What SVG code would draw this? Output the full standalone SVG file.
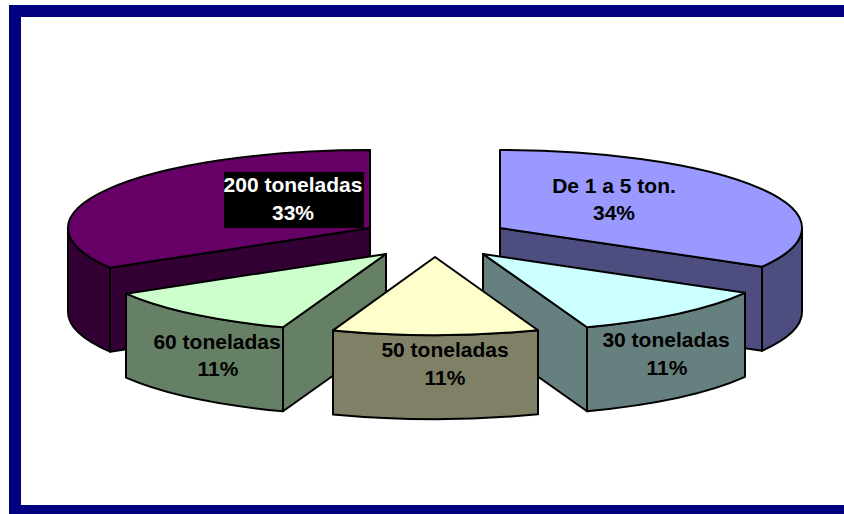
<svg xmlns="http://www.w3.org/2000/svg" width="844" height="514" viewBox="0 0 844 514">
<style>
.e{stroke:#000;stroke-width:2;stroke-linejoin:round}
.t{font-family:"Liberation Sans",Arial,sans-serif;font-weight:bold;font-size:21px;text-anchor:middle;fill:#000}
.w{fill:#fff}
</style>
<rect x="0" y="0" width="844" height="514" fill="#fff"/>
<rect id="frame" x="15" y="11" width="860" height="500" fill="#fff" stroke="#000080" stroke-width="12"/>
<g id="slice-200">
<path class="e" fill="#330033" d="M370,228 L110,267.7 L110,351.7 L370,312 Z"/>
<path class="e" fill="#330033" d="M110,267.7 A302,78 0 0 1 68,228 L68,312 A302,78 0 0 0 110,351.7 Z"/>
<path class="e" fill="#660066" d="M370,228 L110,267.7 A302,78 0 0 1 370,150 Z"/>
<rect x="224" y="172" width="140" height="56" fill="#000"/>
<text class="t w" x="293" y="192">200 toneladas</text>
<text class="t w" x="293" y="220">33%</text>
</g>
<g id="slice-1a5">
<path class="e" fill="#4d4d80" d="M500,228 L762,266.8 L762,350.8 L500,312 Z"/>
<path class="e" fill="#4d4d80" d="M762,266.8 A302,78 0 0 0 802,228 L802,312 A302,78 0 0 1 762,350.8 Z"/>
<path class="e" fill="#9999ff" d="M500,228 L500,150 A302,78 0 0 1 762,266.8 Z"/>
<text class="t" x="614" y="193">De 1 a 5 ton.</text>
<text class="t" x="614" y="220">34%</text>
</g>
<g id="slice-60">
<path class="e" fill="#668066" d="M386,254 L283,327.3 L283,411.3 L386,338 Z"/>
<path class="e" fill="#668066" d="M126,293.7 A302,78 0 0 0 283,327.3 L283,411.3 A302,78 0 0 1 126,377.7 Z"/>
<path class="e" fill="#ccffcc" d="M386,254 L126,293.7 A302,78 0 0 0 283,327.3 Z"/>
<text class="t" x="217" y="349">60 toneladas</text>
<text class="t" x="218" y="376">11%</text>
</g>
<g id="slice-30">
<path class="e" fill="#668080" d="M483,254 L587,327.2 L587,411.2 L483,338 Z"/>
<path class="e" fill="#668080" d="M587,327.2 A302,78 0 0 0 745,292.8 L745,376.8 A302,78 0 0 1 587,411.2 Z"/>
<path class="e" fill="#ccffff" d="M483,254 L587,327.2 A302,78 0 0 0 745,292.8 Z"/>
<text class="t" x="666" y="347">30 toneladas</text>
<text class="t" x="667" y="375">11%</text>
</g>
<g id="slice-50">
<path class="e" fill="#808066" d="M333,330.4 A302,78 0 0 0 538,330.3 L538,414.3 A302,78 0 0 1 333,414.4 Z"/>
<path class="e" fill="#ffffcc" d="M435,257 L333,330.4 A302,78 0 0 0 538,330.3 Z"/>
<text class="t" x="445" y="357">50 toneladas</text>
<text class="t" x="445" y="385">11%</text>
</g>
<g id="connectors"></g>
</svg>
